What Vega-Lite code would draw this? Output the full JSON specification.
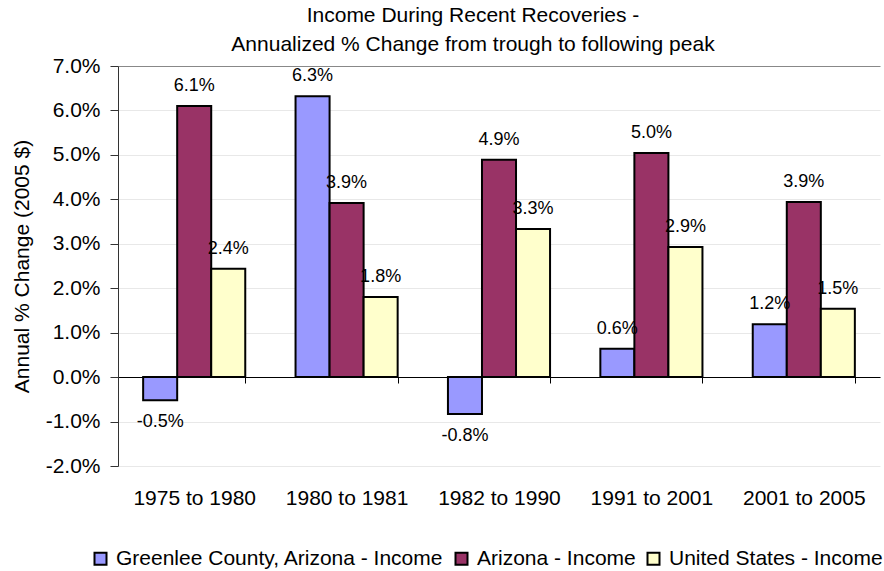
{
  "$schema": "https://vega.github.io/schema/vega-lite/v6.json",
  "width": 762,
  "height": 400,
  "autosize": {"type": "none"},
  "padding": {"left": 118, "top": 66, "right": 4, "bottom": 105},
  "background": "white",
  "title": {
    "text": ["Income During Recent Recoveries -", "Annualized % Change from trough to following peak"],
    "font": "Liberation Sans",
    "fontSize": 21,
    "fontWeight": "normal",
    "color": "black",
    "anchor": "middle",
    "frame": "group",
    "dx": -26,
    "lineHeight": 29,
    "offset": 0
  },
  "data": {
    "values": [
      {"period": "1975 to 1980", "series": "Greenlee County, Arizona - Income", "value": -0.0052},
      {"period": "1975 to 1980", "series": "Arizona - Income", "value": 0.0610},
      {"period": "1975 to 1980", "series": "United States - Income", "value": 0.0244},
      {"period": "1980 to 1981", "series": "Greenlee County, Arizona - Income", "value": 0.0632},
      {"period": "1980 to 1981", "series": "Arizona - Income", "value": 0.0392},
      {"period": "1980 to 1981", "series": "United States - Income", "value": 0.0180},
      {"period": "1982 to 1990", "series": "Greenlee County, Arizona - Income", "value": -0.0083},
      {"period": "1982 to 1990", "series": "Arizona - Income", "value": 0.0489},
      {"period": "1982 to 1990", "series": "United States - Income", "value": 0.0333},
      {"period": "1991 to 2001", "series": "Greenlee County, Arizona - Income", "value": 0.0064},
      {"period": "1991 to 2001", "series": "Arizona - Income", "value": 0.0504},
      {"period": "1991 to 2001", "series": "United States - Income", "value": 0.0293},
      {"period": "2001 to 2005", "series": "Greenlee County, Arizona - Income", "value": 0.0119},
      {"period": "2001 to 2005", "series": "Arizona - Income", "value": 0.0394},
      {"period": "2001 to 2005", "series": "United States - Income", "value": 0.0154}
    ]
  },
  "encoding": {
    "x": {
      "field": "period",
      "type": "nominal",
      "sort": null,
      "scale": {"paddingInner": 0.33, "paddingOuter": 0.165},
      "axis": {
        "title": null,
        "labelAngle": 0,
        "offset": -89,
        "labelPadding": 104,
        "labelFont": "Liberation Sans",
        "labelFontSize": 21,
        "labelColor": "black",
        "domainColor": "black",
        "domainWidth": 1,
        "tickColor": "black",
        "tickSize": 6,
        "tickBand": "extent",
        "grid": false
      }
    },
    "xOffset": {
      "field": "series",
      "type": "nominal",
      "sort": ["Greenlee County, Arizona - Income", "Arizona - Income", "United States - Income"],
      "scale": {"paddingInner": 0, "paddingOuter": 0}
    },
    "y": {
      "field": "value",
      "type": "quantitative",
      "scale": {"domain": [-0.02, 0.07], "nice": false},
      "axis": {
        "title": "Annual % Change (2005 $)",
        "titleFont": "Liberation Sans",
        "titleFontSize": 21,
        "titleFontWeight": "normal",
        "titleColor": "black",
        "titlePadding": 13,
        "format": ".1%",
        "labelExpr": "replace(datum.label, '\u2212', '-')",
        "values": [-0.02, -0.01, 0, 0.01, 0.02, 0.03, 0.04, 0.05, 0.06, 0.07],
        "labelFont": "Liberation Sans",
        "labelFontSize": 21,
        "labelColor": "black",
        "labelPadding": 10,
        "domainColor": "#333333",
        "tickColor": "#333333",
        "tickSize": 8,
        "gridColor": {"condition": {"test": "datum.value >= 0.07", "value": "#888888"}, "value": "#e8e8e8"},
        "gridWidth": 1
      }
    }
  },
  "layer": [
    {
      "mark": {"type": "bar", "stroke": "black", "strokeWidth": 2},
      "encoding": {
        "color": {
          "field": "series",
          "type": "nominal",
          "sort": ["Greenlee County, Arizona - Income", "Arizona - Income", "United States - Income"],
          "scale": {
            "domain": ["Greenlee County, Arizona - Income", "Arizona - Income", "United States - Income"],
            "range": ["#9999FF", "#993366", "#FFFFCC"]
          },
          "legend": {
            "title": null,
            "orient": "none",
            "direction": "horizontal",
            "legendX": -28,
            "legendY": 482,
            "symbolType": "square",
            "symbolSize": 144,
            "symbolStrokeColor": "black",
            "symbolStrokeWidth": 2,
            "symbolOpacity": 1,
            "labelFont": "Liberation Sans",
            "labelFontSize": 21,
            "labelColor": "black",
            "labelOffset": 5,
            "columnPadding": 7,
            "labelLimit": 500
          }
        }
      }
    },
    {
      "transform": [
        {"filter": "datum.value >= 0"},
        {"calculate": "replace(format(datum.value, '.1%'), '\u2212', '-')", "as": "label"}
      ],
      "mark": {"type": "text", "font": "Liberation Sans", "fontSize": 18, "color": "black", "baseline": "middle", "dy": -20},
      "encoding": {"text": {"field": "label", "type": "nominal"}}
    },
    {
      "transform": [
        {"filter": "datum.value < 0"},
        {"calculate": "replace(format(datum.value, '.1%'), '\u2212', '-')", "as": "label"}
      ],
      "mark": {"type": "text", "font": "Liberation Sans", "fontSize": 18, "color": "black", "baseline": "middle", "dy": 22},
      "encoding": {"text": {"field": "label", "type": "nominal"}}
    }
  ],
  "config": {"view": {"stroke": null}}
}
